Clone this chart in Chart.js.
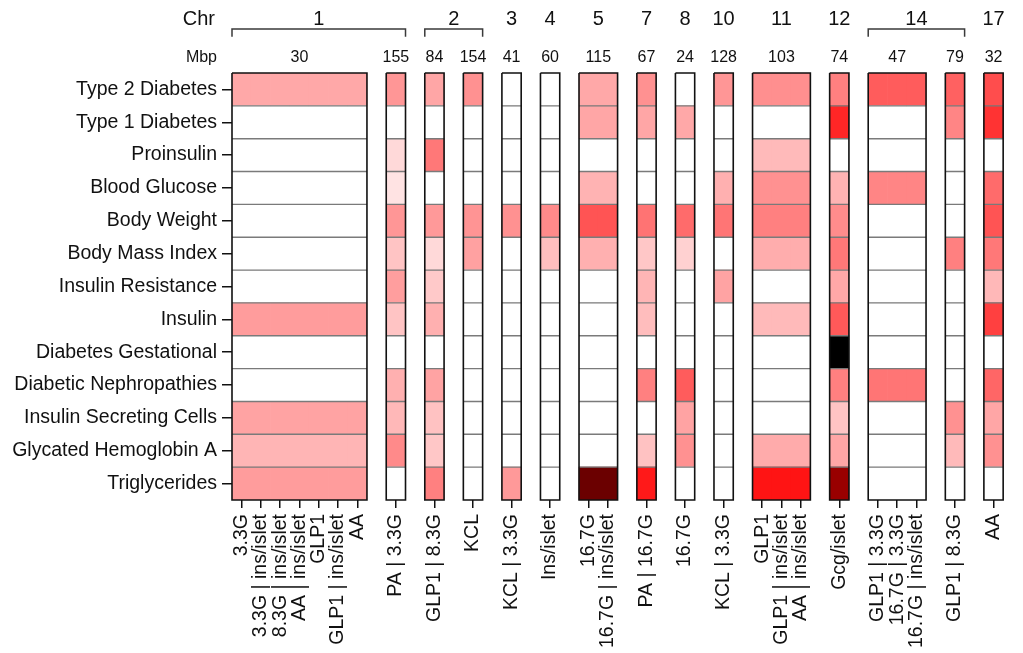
<!DOCTYPE html>
<html>
<head>
<meta charset="utf-8">
<script src="https://cdn.jsdelivr.net/npm/chart.js@4.4.1/dist/chart.umd.min.js"></script>
<style>
  html, body { margin: 0; padding: 0; background: #ffffff; }
  #wrap { width: 1023px; height: 653px; position: relative; }
</style>
</head>
<body>
<div id="wrap"><canvas id="heat"></canvas></div>
<script>
// Phenotypes (rows, top to bottom)
const phenotypes = ['Type 2 Diabetes', 'Type 1 Diabetes', 'Proinsulin', 'Blood Glucose', 'Body Weight',
  'Body Mass Index', 'Insulin Resistance', 'Insulin', 'Diabetes Gestational', 'Diabetic Nephropathies',
  'Insulin Secreting Cells', 'Glycated Hemoglobin A', 'Triglycerides'];

// Loci (panels, left to right)
const chromosomes = ['1', '1', '2', '2', '3', '4', '5', '7', '8', '10', '11', '12', '14', '14', '17'];
const positionsMbp = ['30', '155', '84', '154', '41', '60', '115', '67', '24', '128', '103', '74', '47', '79', '32'];

// Traits mapped to each locus (columns inside a panel)
const conditions = [
  ['3.3G', '3.3G | ins/islet', '8.3G | ins/islet', 'AA | ins/islet', 'GLP1', 'GLP1 | ins/islet', 'AA'],
  ['PA | 3.3G'],
  ['GLP1 | 8.3G'],
  ['KCL'],
  ['KCL | 3.3G'],
  ['Ins/islet'],
  ['16.7G', '16.7G | ins/islet'],
  ['PA | 16.7G'],
  ['16.7G'],
  ['KCL | 3.3G'],
  ['GLP1', 'GLP1 | ins/islet', 'AA | ins/islet'],
  ['Gcg/islet'],
  ['GLP1 | 3.3G', '16.7G | 3.3G', '16.7G | ins/islet'],
  ['GLP1 | 8.3G'],
  ['AA']
];

// Association strength per phenotype for each locus: 0 none, 1 full red, 2 black
const chr1_30   = [0.34, 0, 0, 0, 0, 0, 0, 0.39, 0, 0, 0.36, 0.29, 0.39];
const chr1_155  = [0.41, 0, 0.15, 0.11, 0.41, 0.23, 0.38, 0.23, 0, 0.31, 0.28, 0.46, 0];
const chr2_84   = [0.35, 0, 0.53, 0, 0.40, 0.15, 0.21, 0.31, 0, 0.36, 0.24, 0.22, 0.50];
const chr2_154  = [0.43, 0, 0, 0, 0.42, 0.37, 0, 0, 0, 0, 0, 0, 0];
const chr3_41   = [0, 0, 0, 0, 0.43, 0, 0, 0, 0, 0, 0, 0, 0.40];
const chr4_60   = [0, 0, 0, 0, 0.46, 0.25, 0, 0, 0, 0, 0, 0, 0];
const chr5_115  = [0.34, 0.35, 0, 0.30, 0.67, 0.31, 0, 0, 0, 0, 0, 0, 1.58];
const chr7_67   = [0.43, 0.35, 0, 0, 0.55, 0.22, 0.29, 0.26, 0, 0.50, 0, 0.24, 0.90];
const chr8_24   = [0, 0.34, 0, 0, 0.58, 0.18, 0, 0, 0, 0.64, 0.36, 0.43, 0];
const chr10_128 = [0.41, 0, 0, 0.31, 0.54, 0, 0.36, 0, 0, 0, 0, 0, 0];
const chr11_103 = [0.44, 0, 0.27, 0.43, 0.50, 0.32, 0, 0.27, 0, 0, 0, 0.33, 0.92];
const chr12_74  = [0.50, 0.85, 0, 0.30, 0.45, 0.53, 0.34, 0.65, 2.00, 0.50, 0.23, 0.35, 1.40];
const chr14_47  = [0.64, 0, 0, 0.48, 0, 0, 0, 0, 0, 0.54, 0, 0, 0];
const chr14_79  = [0.62, 0.48, 0, 0, 0, 0.50, 0, 0, 0, 0, 0.43, 0.27, 0];
const chr17_32  = [0.70, 0.80, 0, 0.58, 0.67, 0.53, 0.28, 0.75, 0, 0.60, 0.35, 0.43, 0];

const scores = [chr1_30, chr1_155, chr2_84, chr2_154, chr3_41, chr4_60, chr5_115, chr7_67,
  chr8_24, chr10_128, chr11_103, chr12_74, chr14_47, chr14_79, chr17_32];

// white -> red -> black colour ramp
function heatColour(v) {
  if (v <= 1) {
    const g = Math.round(255 * (1 - v));
    return `rgb(255,${g},${g})`;
  }
  const r = Math.round(255 * Math.max(0, 2 - v));
  return `rgb(${r},0,0)`;
}

// Lay out panels on one x axis: each column is one unit, one empty unit between panels
const panels = [];
const cells = [];
const colCentres = [];
const colLabels = [];
let cursor = 0;
conditions.forEach((conds, p) => {
  const x0 = cursor;
  conds.forEach((label, c) => {
    const cx = x0 + c + 0.5;
    colCentres.push(cx);
    colLabels.push(label);
    scores[p].forEach((v, r) => cells.push({ x: cx, y: [r, r + 1], v }));
  });
  const x1 = x0 + conds.length;
  panels.push({ x0, x1, chr: chromosomes[p], mbp: positionsMbp[p] });
  cursor = x1 + 1;
});
const xMax = cursor - 1;
const nRows = phenotypes.length;

// Chromosome groups (consecutive panels on the same chromosome)
const groups = [];
panels.forEach(pn => {
  const last = groups[groups.length - 1];
  if (last && last.chr === pn.chr) { last.x1 = pn.x1; last.count++; }
  else groups.push({ chr: pn.chr, x0: pn.x0, x1: pn.x1, count: 1 });
});

// Outline of each panel, row rules and chromosome brackets as polylines
const frames = [];
const rules = [];
const brackets = [];
panels.forEach(pn => {
  frames.push({ x: pn.x0, y: 0 }, { x: pn.x1, y: 0 }, { x: pn.x1, y: nRows }, { x: pn.x0, y: nRows },
    { x: pn.x0, y: 0 }, { x: pn.x0, y: null });
  for (let r = 1; r < nRows; r++) {
    rules.push({ x: pn.x0, y: r }, { x: pn.x1, y: r }, { x: pn.x1, y: null });
  }
});
const bracketFoot = -1.10, bracketTop = -1.34;
groups.filter(g => g.count > 1).forEach(g => {
  brackets.push({ x: g.x0, y: bracketFoot }, { x: g.x0, y: bracketTop }, { x: g.x1, y: bracketTop },
    { x: g.x1, y: bracketFoot }, { x: g.x1, y: null });
});

const FONT = "'Liberation Sans', Arial, Helvetica, sans-serif";

// Chromosome / position header above the panels
const headerPlugin = {
  id: 'header',
  afterDraw(chart) {
    const { ctx, chartArea, scales } = chart;
    const xs = scales.x;
    ctx.save();
    ctx.fillStyle = '#111';
    ctx.textBaseline = 'alphabetic';
    ctx.font = `20px ${FONT}`;
    const chrBase = chartArea.top - 48;
    const mbpBase = chartArea.top - 11;
    ctx.textAlign = 'right';
    ctx.fillText('Chr', chartArea.left - 17, chrBase);
    ctx.textAlign = 'center';
    groups.forEach(g => {
      ctx.fillText(g.chr, (xs.getPixelForValue(g.x0) + xs.getPixelForValue(g.x1)) / 2, chrBase);
    });
    ctx.font = `16px ${FONT}`;
    ctx.textAlign = 'right';
    ctx.fillText('Mbp', chartArea.left - 15, mbpBase);
    ctx.textAlign = 'center';
    panels.forEach(pn => {
      ctx.fillText(pn.mbp, (xs.getPixelForValue(pn.x0) + xs.getPixelForValue(pn.x1)) / 2, mbpBase);
    });
    ctx.restore();
  }
};

new Chart(document.getElementById('heat'), {
  type: 'bar',
  data: {
    datasets: [
      {
        type: 'line', label: 'frames', data: frames, order: 0,
        borderColor: '#111', borderWidth: 1.6, pointRadius: 0, fill: false,
        spanGaps: false, tension: 0, borderJoinStyle: 'miter', clip: false
      },
      {
        type: 'line', label: 'rules', data: rules, order: 1,
        borderColor: '#7a7a7a', borderWidth: 1.4, pointRadius: 0, fill: false,
        spanGaps: false, tension: 0
      },
      {
        type: 'line', label: 'brackets', data: brackets, order: 0,
        borderColor: '#3a3a3a', borderWidth: 1.5, pointRadius: 0, fill: false,
        spanGaps: false, tension: 0, clip: false
      },
      {
        type: 'bar', label: 'cells', data: cells, order: 2,
        backgroundColor: ctx => heatColour(ctx.raw ? ctx.raw.v : 0),
        borderWidth: 0, barPercentage: 1, categoryPercentage: 1
      }
    ]
  },
  options: {
    responsive: true,
    maintainAspectRatio: false,
    animation: false,
    devicePixelRatio: 1,
    layout: { padding: { top: 73, right: 6, left: 0, bottom: 0 } },
    plugins: { legend: { display: false }, tooltip: { enabled: false } },
    scales: {
      x: {
        type: 'linear', min: 0, max: xMax, offset: false,
        grid: { offset: false, drawOnChartArea: false, drawTicks: true, tickLength: 8, color: '#111', lineWidth: 1.5 },
        border: { display: false },
        afterBuildTicks: s => { s.ticks = colCentres.map(v => ({ value: v })); },
        afterFit: s => { s.height = 153; },
        ticks: {
          autoSkip: false, minRotation: 90, maxRotation: 90, padding: 6,
          color: '#111', font: { family: FONT, size: 19.5 },
          callback: (v, i) => colLabels[i]
        }
      },
      y: {
        type: 'linear', min: 0, max: nRows, reverse: true,
        grid: { drawOnChartArea: false, drawTicks: true, tickLength: 10, color: '#111', lineWidth: 1.5 },
        border: { display: false },
        afterBuildTicks: s => { s.ticks = phenotypes.map((_, i) => ({ value: i + 0.5 })); },
        afterFit: s => { s.width = 232; },
        ticks: {
          autoSkip: false, padding: 5, color: '#111',
          font: { family: FONT, size: 19.5 },
          callback: (v, i) => phenotypes[i]
        }
      }
    }
  },
  plugins: [headerPlugin]
});
</script>
</body>
</html>
